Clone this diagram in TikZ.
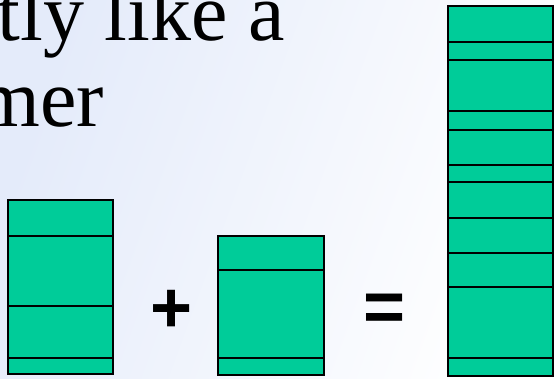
\documentclass[tikz,border=0pt]{standalone}
\usepackage{fontspec}
\setmainfont{Liberation Serif}
\newfontfamily\signfont{Liberation Sans}
\usetikzlibrary{positioning}

\definecolor{slabgreen}{HTML}{00CC99}
\definecolor{bgblue}{HTML}{E4EBFA}

\begin{document}
\begin{tikzpicture}[
    x=1pt, y=-1pt,
    % === STYLES ===
    slab/.style={
        draw=black,
        fill=slabgreen,
        line width=2pt
    },
    bigtext/.style={
        font=\fontsize{82}{88}\selectfont,
        inner sep=0pt,
        anchor=base east
    },
    opsign/.style={
        font=\signfont\bfseries\fontsize{72}{72}\selectfont,
        inner sep=0pt
    }
]

% === FRAME AND BACKGROUND ===
\useasboundingbox (0,0) rectangle (554,378);
\clip (0,0) rectangle (554,378);
\shade[left color=bgblue, right color=white, shading angle=70] (0,0) rectangle (554,378);

% === SLIDE TEXT ===
\node[bigtext] (lineone) at (285,40) {tly like a};
\node[bigtext] (linetwo) at (104,126) {mer};

% === LEFT STACK ===
\foreach \ya/\yb in {200/236, 236/306, 306/358, 358/374}
    \draw[slab] (8,\ya) rectangle (113,\yb);

% Plus sign
\node[opsign] (plus) at (172,311) {+};

% === MIDDLE STACK ===
\foreach \ya/\yb in {236/270, 270/358, 358/375}
    \draw[slab] (218,\ya) rectangle (324,\yb);

% Equals sign
\node[opsign] (equals) at (385,313) {=};

% === RIGHT STACK (RESULT) ===
\foreach \ya/\yb in {6/42, 42/60, 60/111, 111/130, 130/165, 165/182,
                     182/218, 218/253, 253/287, 287/358, 358/376}
    \draw[slab] (448,\ya) rectangle (552.5,\yb);

\end{tikzpicture}
\end{document}
